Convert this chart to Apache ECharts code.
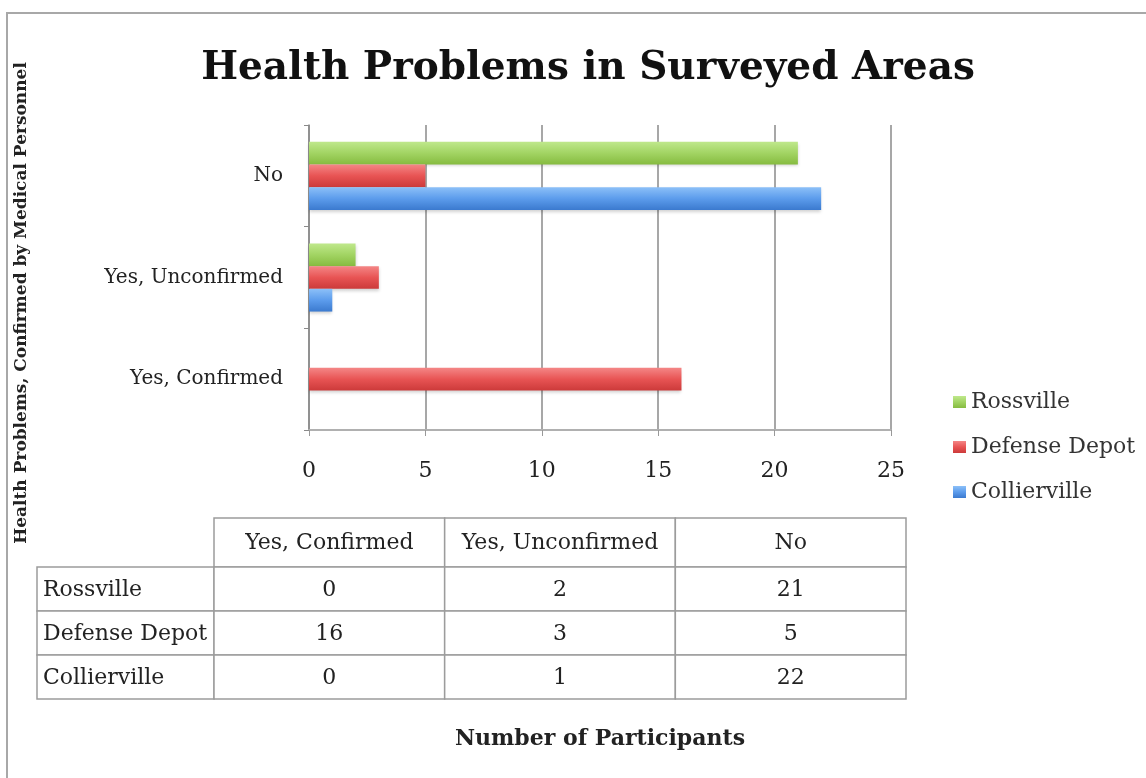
<!DOCTYPE html>
<html>
<head>
<meta charset="utf-8">
<script src="https://cdn.jsdelivr.net/npm/echarts@6/dist/echarts.min.js"></script>
<style>html,body{margin:0;padding:0;background:#fff}#c{width:1146px;height:778px}</style>
</head>
<body>
<div id="c"></div>
<script>
// ---- data ----
const categories = ['Yes, Confirmed', 'Yes, Unconfirmed', 'No'];
const areas = ['Rossville', 'Defense Depot', 'Collierville'];
const rossville = [0, 2, 21];
const defenseDepot = [16, 3, 5];
const collierville = [0, 1, 22];
const xTicks = [0, 5, 10, 15, 20, 25];

const FONT = 'DejaVu Serif';
const seriesValues = [rossville, defenseDepot, collierville];

function grad(c0, c1, c2) {
  return new echarts.graphic.LinearGradient(0, 0, 0, 1, [
    { offset: 0, color: c0 }, { offset: 0.5, color: c1 }, { offset: 1, color: c2 }
  ]);
}
const colors = [
  grad('#bfe88c', '#a2d463', '#86bb40'),
  grad('#f48686', '#e85454', '#cc3a3a'),
  grad('#8cc0f8', '#5c9cec', '#3b7acf')
];

// table cells built from the data arrays
const cells = [];
categories.forEach((c, j) => cells.push({ value: [j, 0], text: c, kind: 'col' }));
areas.forEach((a, i) => cells.push({ value: [0, i], text: a, kind: 'row' }));
areas.forEach((a, i) => {
  categories.forEach((c, j) => cells.push({ value: [j, i], text: String(seriesValues[i][j]), kind: 'cell' }));
});

const HEAD_H = 49, ROWHEAD_W = 177;
const LINE = '#9c9c9c';

function renderCell(params, api) {
  const cell = cells[params.dataIndex];
  const c = api.coord([api.value(0), api.value(1)]);
  const s = api.size([1, 1]);
  let x = c[0] - s[0] / 2, y = c[1] - s[1] / 2, w = s[0], h = s[1];
  let align = 'center', tx = c[0];
  if (cell.kind === 'col') { y = y - HEAD_H; h = HEAD_H; }
  if (cell.kind === 'row') { x = x - ROWHEAD_W; w = ROWHEAD_W; align = 'left'; tx = x + 6; }
  return {
    type: 'group',
    children: [
      { type: 'rect', shape: { x: x, y: y, width: w, height: h },
        style: { fill: '#fff', stroke: LINE, lineWidth: 1.5 } },
      { type: 'text', style: { text: cell.text, x: tx, y: y + h / 2 + 1, align: align, verticalAlign: 'middle',
        fontSize: 22, fontFamily: FONT, fill: '#222' } }
    ]
  };
}

const chart = echarts.init(document.getElementById('c'), null, { renderer: 'canvas' });
const option = {
  backgroundColor: '#fff',
  animation: false,
  title: {
    text: 'Health Problems in Surveyed Areas',
    left: 583, top: 41, textAlign: 'center',
    textStyle: { fontFamily: FONT, fontWeight: 'bold', fontSize: 39, color: '#111', lineHeight: 46 }
  },
  legend: {
    data: ['Rossville', 'Defense Depot', 'Collierville'],
    orient: 'vertical', left: 948, top: 385,
    itemWidth: 13, itemHeight: 12, itemGap: 21, icon: 'rect',
    textStyle: { fontFamily: FONT, fontSize: 22, color: '#333', lineHeight: 24 }
  },
  graphic: [
    { type: 'rect', shape: { x: 7, y: 13, width: 1200, height: 800 },
      style: { fill: 'none', stroke: '#a8a8a8', lineWidth: 2 }, silent: true },
    { type: 'text', x: 22, y: 303, rotation: Math.PI / 2,
      style: { text: 'Health Problems, Confirmed by Medical Personnel', align: 'center', verticalAlign: 'middle',
        fontFamily: FONT, fontWeight: 'bold', fontSize: 17, fill: '#222' } }
  ],
  grid: [
    { left: 309, right: 255, top: 125, bottom: 348 },
    { left: 214, right: 240, top: 567, height: 132 }
  ],
  xAxis: [
    {
      type: 'value', gridIndex: 0, min: 0, max: 25, interval: 5,
      name: 'Number of Participants', nameLocation: 'middle', nameGap: 298,
      nameTextStyle: { fontFamily: FONT, fontWeight: 'bold', fontSize: 22, color: '#222' },
      axisLine: { show: true, lineStyle: { color: '#b0b0b0', width: 2 } },
      axisTick: { show: true, length: 6, lineStyle: { color: '#999' } },
      splitLine: { show: true, lineStyle: { color: '#8a8a8a', width: 1.5 } },
      axisLabel: { margin: 30, fontFamily: FONT, fontSize: 22, color: '#222' }
    },
    { type: 'category', gridIndex: 1, data: categories, show: false }
  ],
  yAxis: [
    {
      type: 'category', gridIndex: 0, data: categories,
      axisLine: { show: true, lineStyle: { color: '#8a8a8a', width: 1.5 } },
      axisTick: { show: true, length: 5, lineStyle: { color: '#8a8a8a' } },
      axisLabel: { margin: 26, fontFamily: FONT, fontSize: 20, color: '#222' },
      splitLine: { show: false }
    },
    { type: 'category', gridIndex: 1, data: areas, inverse: true, show: false }
  ],
  series: [
    { name: 'Rossville', type: 'bar', data: rossville, barGap: '0%', barCategoryGap: '33%',
      itemStyle: { color: colors[0], shadowColor: 'rgba(0,0,0,0.18)', shadowBlur: 3, shadowOffsetY: 2 } },
    { name: 'Defense Depot', type: 'bar', data: defenseDepot, barGap: '0%', barCategoryGap: '33%',
      itemStyle: { color: colors[1], shadowColor: 'rgba(0,0,0,0.18)', shadowBlur: 3, shadowOffsetY: 2 } },
    { name: 'Collierville', type: 'bar', data: collierville, barGap: '0%', barCategoryGap: '33%',
      itemStyle: { color: colors[2], shadowColor: 'rgba(0,0,0,0.18)', shadowBlur: 3, shadowOffsetY: 2 } },
    { name: 'table', type: 'custom', xAxisIndex: 1, yAxisIndex: 1, data: cells, renderItem: renderCell,
      silent: true, clip: false }
  ]
};
chart.setOption(option);
</script>
</body>
</html>
